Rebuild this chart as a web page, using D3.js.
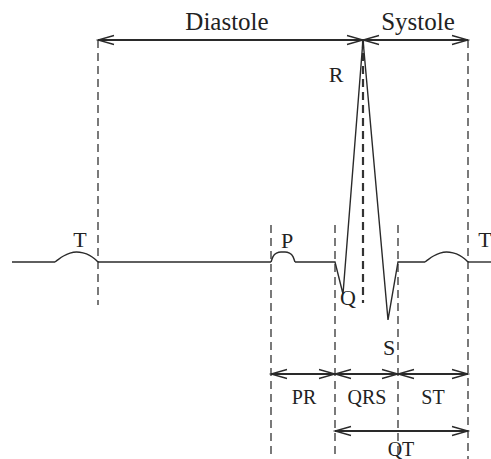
<!DOCTYPE html>
<html>
<head>
<meta charset="utf-8">
<script src="https://cdn.jsdelivr.net/npm/d3@7"></script>
<style>
  html, body { margin: 0; padding: 0; background: #fff; }
  svg { display: block; }
  text { font-family: "Liberation Serif", "DejaVu Serif", serif; fill: #222; }
</style>
</head>
<body>
<script>
// ---- Data (time in ms, amplitude relative to R peak) ----
const waveNames = ["T", "P", "Q", "R", "S", "T"];
// ECG segments: straight pieces and rounded waves
const flat1   = [[0, 0], [86, 0]];
const tWave1  = [[86, 0], [93, 0.012], [103, 0.027], [116, 0.040], [129, 0.045], [142, 0.041], [155, 0.030], [165, 0.015], [172, 0]];
const flat2   = [[172, 0], [518, 0]];
const pWave   = [[518, 0], [522, 0.024], [529, 0.040], [538, 0.045], [546, 0.045], [555, 0.040], [562, 0.024], [566, 0]];
const qrs     = [[566, 0], [646, 0], [662, -0.144], [702, 1], [752, -0.261], [772, 0], [826, 0]];
const tWave2  = [[826, 0], [833, 0.012], [843, 0.027], [856, 0.040], [869, 0.045], [882, 0.041], [895, 0.030], [905, 0.015], [912, 0]];
const flat3   = [[912, 0], [958, 0]];

// Event times (ms)
const eventNames = ["T end", "P start", "Q start", "R peak", "S end", "T end 2"];
const eventTimes = [172, 518, 646, 702, 772, 912];

// Interval arrows
const intervalLabels = ["Diastole", "Systole", "PR", "QRS", "ST", "QT"];
const intervalStart  = [172, 702, 518, 646, 772, 646];
const intervalEnd    = [702, 912, 646, 772, 912, 912];

// ---- Layout ----
const W = 491, H = 459;
const x = d3.scaleLinear().domain([0, 958]).range([12, 491]);
const y = d3.scaleLinear().domain([0, 1]).range([262, 40]);

const svg = d3.select("body").append("svg").attr("width", W).attr("height", H);

const ink = "#2a2a2a";

// dashed guides
const guides = [
  { t: eventTimes[0], y1: y(1), y2: 305, w: 1.3 },
  { t: eventTimes[1], y1: 225, y2: H, w: 1.3 },
  { t: eventTimes[2], y1: 225, y2: H, w: 1.3 },
  { t: eventTimes[3], y1: y(1), y2: 303, w: 2.2 },
  { t: eventTimes[4], y1: 225, y2: H, w: 1.3 },
  { t: eventTimes[5], y1: y(1), y2: H, w: 1.3 }
];
svg.selectAll("line.guide").data(guides).join("line")
  .attr("class", "guide")
  .attr("x1", d => x(d.t)).attr("x2", d => x(d.t))
  .attr("y1", d => d.y1).attr("y2", d => d.y2)
  .attr("stroke", "#333").attr("stroke-width", d => d.w)
  .attr("stroke-dasharray", "8,5");

// ECG trace
const straight = d3.line().x(d => x(d[0])).y(d => y(d[1]));
const smooth = d3.line().x(d => x(d[0])).y(d => y(d[1])).curve(d3.curveMonotoneX);
[[flat1, straight], [tWave1, smooth], [flat2, straight], [pWave, smooth],
 [qrs, straight], [tWave2, smooth], [flat3, straight]].forEach(([pts, gen]) => {
  svg.append("path").attr("d", gen(pts))
    .attr("fill", "none").attr("stroke", ink).attr("stroke-width", 1.4)
    .attr("stroke-linejoin", "miter");
});

// Arrows
const rowY = [y(1), y(1), 374, 374, 374, 431];
function arrowHead(xTip, yy, dir) {
  const L = 16, hw = 4.5;
  return `M${xTip + dir * L},${yy - hw} L${xTip},${yy} L${xTip + dir * L},${yy + hw}`;
}
intervalLabels.forEach((lab, i) => {
  const x1 = x(intervalStart[i]), x2 = x(intervalEnd[i]), yy = rowY[i];
  svg.append("line").attr("x1", x1).attr("x2", x2).attr("y1", yy).attr("y2", yy)
    .attr("stroke", ink).attr("stroke-width", 2);
  svg.append("path").attr("d", arrowHead(x1, yy, 1) + " " + arrowHead(x2, yy, -1))
    .attr("fill", "none").attr("stroke", ink).attr("stroke-width", 1.3);
});

// Interval labels
const intervalLabelPos = [[227, 30, 25], [418, 30, 25], [304, 404, 20], [367, 404, 20], [433, 404, 20], [401, 456, 20]];
intervalLabels.forEach((lab, i) => {
  svg.append("text").attr("x", intervalLabelPos[i][0]).attr("y", intervalLabelPos[i][1])
    .attr("text-anchor", "middle").attr("font-size", intervalLabelPos[i][2]).text(lab);
});

// Wave letters
const waveLabelPos = [[80, 247], [287, 248], [348, 305], [336, 82], [389, 355], [485, 247]];
waveNames.forEach((n, i) => {
  svg.append("text").attr("x", waveLabelPos[i][0]).attr("y", waveLabelPos[i][1])
    .attr("text-anchor", "middle").attr("font-size", 22).text(n);
});
</script>
</body>
</html>
